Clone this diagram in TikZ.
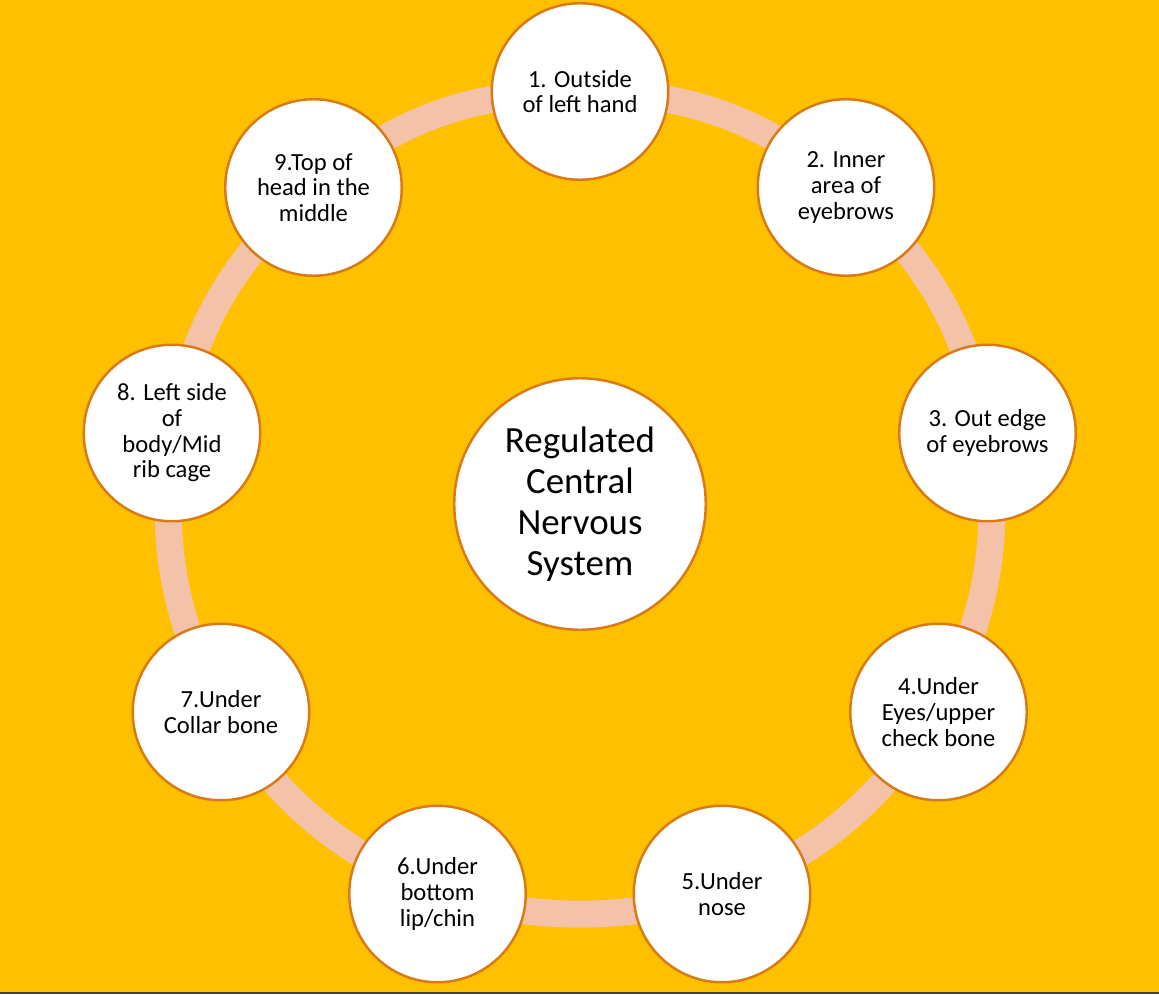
\documentclass[tikz,border=0pt]{standalone}
\usepackage{fontspec}
\setmainfont{Carlito}
\usepackage{tikz}
\usetikzlibrary{backgrounds}
\definecolor{gold}{RGB}{255,192,0}
\definecolor{peach}{RGB}{244,193,169}
\definecolor{rim}{RGB}{218,122,22}

\begin{document}
\begin{tikzpicture}[
  point/.style = {circle, draw=rim, line width=1.4pt, fill=white, minimum size=3.53cm, inner sep=0pt, align=center, font=\fontsize{14}{14.6}\selectfont},
  core/.style = {circle, draw=rim, line width=1.4pt, fill=white, minimum size=5.03cm, inner sep=0pt, align=center, font=\fontsize{21}{23.3}\selectfont},
  ring/.style = {draw=peach, line width=0.54cm}]
 \useasboundingbox (-11.6, -9.8) rectangle (11.58, 10.08);
 \node [core] (RCNS) at (0, 0) {Regulated\\Central\\Nervous\\System};
 \node [point] (P1) at (0, 8.25) {1. Outside\\of left hand};
 \node [point] (P2) at (5.32, 6.33) {2. Inner\\area of\\eyebrows};
 \node [point] (P3) at (8.15, 1.42) {3. Out edge\\of eyebrows};
 \node [point] (P4) at (7.17, -4.16) {4.Under\\Eyes/upper\\check bone};
 \node [point] (P5) at (2.84, -7.80) {5.Under\\nose};
 \node [point] (P6) at (-2.85, -7.80) {6.Under\\bottom\\lip/chin};
 \node [point] (P7) at (-7.18, -4.16) {7.Under\\Collar bone};
 \node [point] (P8) at (-8.16, 1.42) {8. Left side\\of\\body/Mid\\rib cage};
 \node [point] (P9) at (-5.33, 6.33) {9.Top of\\head in the\\middle};
 \begin{scope}[on background layer]
 \fill [gold] (-11.6, -9.8) rectangle (11.58, 10.08);
 \draw [ring, bend left = 19] (P1.center) to (P2.center);
 \draw [ring, bend left = 18] (P2.center) to (P3.center);
 \draw [ring, bend left = 16.5] (P3.center) to (P4.center);
 \draw [ring, bend left = 16] (P4.center) to (P5.center);
 \draw [ring, bend left = 14] (P5.center) to (P6.center);
 \draw [ring, bend left = 16] (P6.center) to (P7.center);
 \draw [ring, bend left = 16] (P7.center) to (P8.center);
 \draw [ring, bend left = 18] (P8.center) to (P9.center);
 \draw [ring, bend left = 19] (P9.center) to (P1.center);
 \end{scope}
 \draw [line width=0.04cm, draw=darkgray] (-11.6, -9.78) -- (11.58, -9.78);
\end{tikzpicture}
\end{document}
